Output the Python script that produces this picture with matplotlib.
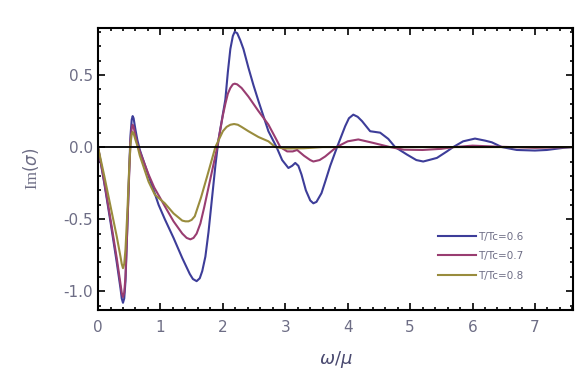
import matplotlib
matplotlib.use("Agg")
import matplotlib.pyplot as plt
from matplotlib.ticker import MultipleLocator, FormatStrFormatter

# Im(sigma) vs omega/mu
x06 = [0.00, 0.10, 0.20, 0.30, 0.36, 0.38, 0.40, 0.42, 0.44, 0.47, 0.50, 0.52,
       0.54, 0.555, 0.57, 0.60, 0.63, 0.67, 0.74, 0.81, 0.90, 0.97, 1.07, 1.21,
       1.35, 1.47, 1.52, 1.58, 1.63, 1.67, 1.72, 1.77, 1.88, 1.93, 2.04, 2.08,
       2.12, 2.16, 2.19, 2.23, 2.28, 2.33, 2.41, 2.49, 2.57, 2.73, 2.86, 2.95,
       3.05, 3.11, 3.16, 3.21, 3.26, 3.33, 3.40, 3.45, 3.50, 3.58, 3.64, 3.72,
       3.83, 3.96, 4.02, 4.09, 4.16, 4.23, 4.36, 4.52, 4.65, 4.76, 4.95, 5.10,
       5.21, 5.30, 5.43, 5.59, 5.69, 5.85, 6.04, 6.20, 6.31, 6.47, 6.71, 7.00,
       7.19, 7.46, 7.60]
y06 = [0.00, -0.25, -0.52, -0.80, -0.98, -1.05, -1.08, -1.05, -0.93, -0.55, -0.15, 0.08,
       0.19, 0.215, 0.20, 0.12, 0.05, -0.02, -0.11, -0.20, -0.31, -0.40, -0.50, -0.63,
       -0.77, -0.88, -0.915, -0.93, -0.91, -0.86, -0.76, -0.59, -0.13, 0.05, 0.33, 0.52,
       0.68, 0.77, 0.80, 0.79, 0.74, 0.68, 0.55, 0.43, 0.32, 0.11, 0.00, -0.09,
       -0.145, -0.13, -0.11, -0.13, -0.19, -0.30, -0.37, -0.39, -0.38, -0.32, -0.24, -0.13,
       0.00, 0.145, 0.20, 0.225, 0.21, 0.18, 0.11, 0.10, 0.057, 0.00, -0.052, -0.09,
       -0.10, -0.09, -0.075, -0.03, 0.00, 0.04, 0.059, 0.045, 0.033, 0.00, -0.02, -0.024,
       -0.02, -0.005, 0.00]

x07 = [0.00, 0.10, 0.20, 0.30, 0.36, 0.38, 0.40, 0.42, 0.44, 0.47, 0.50, 0.52,
       0.54, 0.555, 0.57, 0.60, 0.63, 0.67, 0.74, 0.81, 0.90, 1.07, 1.21, 1.35,
       1.42, 1.48, 1.53, 1.58, 1.64, 1.70, 1.80, 1.91, 2.00, 2.04, 2.08, 2.12,
       2.16, 2.19, 2.23, 2.30, 2.41, 2.57, 2.73, 2.86, 2.92, 3.03, 3.12, 3.19,
       3.30, 3.40, 3.45, 3.55, 3.64, 3.82, 4.00, 4.17, 4.40, 4.68, 4.90, 5.20,
       5.50, 5.70, 6.00, 6.40, 7.00, 7.60]
y07 = [0.00, -0.24, -0.50, -0.77, -0.95, -1.01, -1.04, -1.01, -0.90, -0.55, -0.18, 0.04,
       0.13, 0.155, 0.14, 0.08, 0.02, -0.03, -0.11, -0.19, -0.28, -0.41, -0.515, -0.60,
       -0.63, -0.64, -0.63, -0.60, -0.53, -0.42, -0.22, 0.00, 0.22, 0.30, 0.37, 0.41,
       0.435, 0.44, 0.435, 0.41, 0.35, 0.25, 0.156, 0.05, 0.00, -0.03, -0.03, -0.02,
       -0.06, -0.09, -0.10, -0.09, -0.065, 0.00, 0.04, 0.053, 0.03, 0.00, -0.018, -0.02,
       -0.012, 0.00, 0.01, 0.003, -0.005, 0.00]

x08 = [0.00, 0.10, 0.20, 0.30, 0.36, 0.38, 0.40, 0.42, 0.44, 0.47, 0.50, 0.52,
       0.54, 0.555, 0.57, 0.60, 0.63, 0.67, 0.74, 0.81, 0.91, 1.07, 1.21, 1.35,
       1.40, 1.45, 1.50, 1.55, 1.65, 1.75, 1.88, 2.00, 2.06, 2.12, 2.18, 2.24,
       2.30, 2.41, 2.57, 2.73, 2.84, 3.00, 3.30, 3.60, 7.60]
y08 = [0.00, -0.20, -0.41, -0.62, -0.76, -0.81, -0.84, -0.81, -0.71, -0.45, -0.14, 0.02,
       0.09, 0.105, 0.095, 0.05, 0.01, -0.06, -0.15, -0.24, -0.33, -0.39, -0.46, -0.51,
       -0.515, -0.515, -0.505, -0.48, -0.35, -0.20, 0.00, 0.11, 0.14, 0.155, 0.16, 0.155,
       0.14, 0.11, 0.07, 0.04, 0.00, -0.01, -0.008, 0.00, 0.00]

labels = ["T/Tc=0.6", "T/Tc=0.7", "T/Tc=0.8"]
colors = ["#3d3d99", "#993d71", "#998c3d"]

fig = plt.figure(figsize=(5.88, 3.89), dpi=100)
ax = fig.add_axes([0.1667, 0.2031, 0.8078, 0.7249])

for xs, ys, lab, c in zip([x06, x07, x08], [y06, y07, y08], labels, colors):
    ax.plot(xs, ys, color=c, lw=1.5, label=lab, solid_joinstyle="round")
ax.axhline(0, color="black", lw=1.3, zorder=3)

ax.set_xlim(0, 7.61)
ax.set_ylim(-1.13, 0.826)
ax.xaxis.set_major_locator(MultipleLocator(1))
ax.xaxis.set_minor_locator(MultipleLocator(0.2))
ax.yaxis.set_major_locator(MultipleLocator(0.5))
ax.yaxis.set_minor_locator(MultipleLocator(0.1))
ax.yaxis.set_major_formatter(FormatStrFormatter("%.1f"))
ax.tick_params(which="both", direction="in", top=True, right=True,
               width=1.2, labelsize=11, labelcolor="#6d6d85")
ax.tick_params(which="major", length=5)
ax.tick_params(which="minor", length=2.5)
ax.tick_params(axis="x", pad=7)
for s in ax.spines.values():
    s.set_linewidth(1.5)

ax.set_xlabel(r"$\omega/\mu$", fontsize=13, color="#4a4a70", labelpad=10)
ax.set_ylabel(r"Im$(\sigma)$", fontsize=12, color="#6d6d85",
              family="Liberation Serif", labelpad=16)

ax.legend(loc="center left", bbox_to_anchor=(0.707, 0.191), borderaxespad=0,
          frameon=False, fontsize=7.5, handlelength=3.6, handletextpad=0.2,
          labelspacing=0.9, labelcolor="#6d6d85")

fig.savefig("out.png", dpi=100)
